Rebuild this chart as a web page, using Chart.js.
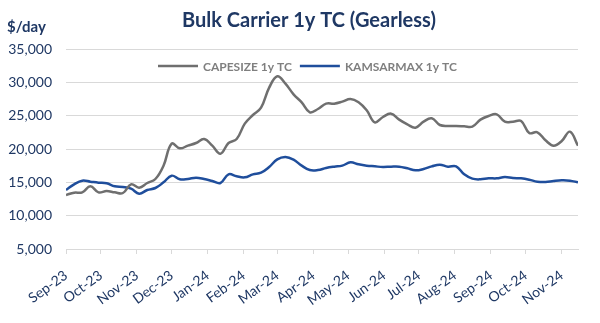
<!DOCTYPE html>
<html lang="en">
<head>
  <meta charset="UTF-8">
  <title>Bulk Carrier 1y TC (Gearless)</title>
  <script src="https://cdn.jsdelivr.net/npm/chart.js"></script>
  <style>
    * { margin: 0; padding: 0; box-sizing: border-box; }
    body { background: #fff; width: 600px; height: 323px; overflow: hidden; }
    canvas { display: block; }
  </style>
</head>
<body>
  <canvas id="tcChart" width="600" height="323"></canvas>

<script>
  // weekly assessment dates (Fridays)
  const weekDates = [
    '2023-09-01','2023-09-08','2023-09-15','2023-09-22','2023-09-29',
    '2023-10-06','2023-10-13','2023-10-20','2023-10-27',
    '2023-11-03','2023-11-10','2023-11-17','2023-11-24',
    '2023-12-01','2023-12-08','2023-12-15','2023-12-22','2023-12-29',
    '2024-01-05','2024-01-12','2024-01-19','2024-01-26',
    '2024-02-02','2024-02-09','2024-02-16','2024-02-23',
    '2024-03-01','2024-03-08','2024-03-15','2024-03-22','2024-03-29',
    '2024-04-05','2024-04-12','2024-04-19','2024-04-26',
    '2024-05-03','2024-05-10','2024-05-17','2024-05-24','2024-05-31',
    '2024-06-07','2024-06-14','2024-06-21','2024-06-28',
    '2024-07-05','2024-07-12','2024-07-19','2024-07-26',
    '2024-08-02','2024-08-09','2024-08-16','2024-08-23','2024-08-30',
    '2024-09-06','2024-09-13','2024-09-20','2024-09-27',
    '2024-10-04','2024-10-11','2024-10-18','2024-10-25',
    '2024-11-01','2024-11-08','2024-11-15'
  ];

  const capesize = [
    13100, 13450, 13500, 14400, 13500, 13700, 13500, 13400, 14700, 14200,
    14900, 15500, 17500, 20800, 20100, 20500, 20900, 21500, 20500, 19300,
    20900, 21500, 23800, 25100, 26200, 29200, 30900, 29800, 28200, 27000,
    25500, 26000, 26800, 26800, 27100, 27500, 27000, 25800, 24000, 24800,
    25300, 24400, 23700, 23200, 24100, 24600, 23600, 23450, 23450, 23400,
    23350, 24400, 24950, 25200, 24100, 24100, 24200, 22400, 22500, 21300,
    20500, 21200, 22600, 20500
  ];

  const kamsarmax = [
    13850, 14700, 15250, 15100, 14950, 14850, 14400, 14300, 14050, 13300,
    13850, 14150, 15000, 16000, 15450, 15500, 15700, 15500, 15200, 14900,
    16200, 15900, 15750, 16200, 16450, 17300, 18450, 18800, 18400, 17500,
    16850, 16850, 17150, 17350, 17500, 18000, 17700, 17500, 17400, 17300,
    17350, 17350, 17100, 16800, 17000, 17400, 17650, 17350, 17400, 16200,
    15550, 15450, 15600, 15600, 15800, 15650, 15600, 15400, 15100, 15050,
    15200, 15300, 15250, 15000
  ];

  const monthLabels = ['Sep-23','Oct-23','Nov-23','Dec-23','Jan-24','Feb-24','Mar-24',
    'Apr-24','May-24','Jun-24','Jul-24','Aug-24','Sep-24','Oct-24','Nov-24'];

  const seriesNames = ['CAPESIZE 1y TC', 'KAMSARMAX 1y TC'];
  const seriesColors = ['#6f6f6f', '#1f4e9c'];
  const navy = '#1f3864';
  const fontFamily = "Lato, 'Open Sans', sans-serif";

  // day offsets from the first assessment
  const dayMs = 86400000;
  const origin = Date.parse(weekDates[0] + 'T00:00:00Z');
  const toDays = s => Math.round((Date.parse(s + 'T00:00:00Z') - origin) / dayMs);
  const monNames = ['Jan','Feb','Mar','Apr','May','Jun','Jul','Aug','Sep','Oct','Nov','Dec'];
  const monthTicks = monthLabels.map(l => {
    const [m, y] = l.split('-');
    return Math.round((Date.UTC(2000 + parseInt(y), monNames.indexOf(m), 1) - origin) / dayMs);
  });

  const toPoints = vals => vals.map((v, i) => ({ x: toDays(weekDates[i]), y: v }));

  const headerPlugin = {
    id: 'header',
    afterDraw(chart) {
      const ctx = chart.ctx;
      ctx.save();
      ctx.fillStyle = navy;
      ctx.textBaseline = 'alphabetic';
      ctx.font = `bold 20px ${fontFamily}`;
      ctx.textAlign = 'center';
      ctx.fillText('Bulk Carrier 1y TC (Gearless)', 309, 27);
      ctx.font = `bold 15px ${fontFamily}`;
      ctx.textAlign = 'left';
      ctx.fillText('$/day', 7, 32);

      // legend inside plot area
      ctx.font = `bold 12px ${fontFamily}`;
      ctx.textBaseline = 'middle';
      let x = 158;
      const y = 66;
      seriesNames.forEach((name, i) => {
        ctx.strokeStyle = seriesColors[i];
        ctx.lineWidth = 2.5;
        ctx.beginPath();
        ctx.moveTo(x, y);
        ctx.lineTo(x + 40, y);
        ctx.stroke();
        x += 45;
        ctx.fillStyle = '#7f7f7f';
        ctx.fillText(name, x, y + 1);
        x += ctx.measureText(name).width + 8;
      });
      ctx.restore();
    }
  };

  new Chart(document.getElementById('tcChart').getContext('2d'), {
    type: 'line',
    data: {
      datasets: [
        { label: seriesNames[0], data: toPoints(capesize), borderColor: seriesColors[0],
          borderWidth: 2.5, pointRadius: 0, tension: 0.4, fill: false },
        { label: seriesNames[1], data: toPoints(kamsarmax), borderColor: seriesColors[1],
          borderWidth: 2.5, pointRadius: 0, tension: 0.4, fill: false }
      ]
    },
    options: {
      responsive: false,
      animation: false,
      devicePixelRatio: 1,
      layout: { padding: { top: 49, right: 22, left: 0, bottom: 0 } },
      plugins: {
        legend: { display: false },
        tooltip: { enabled: false }
      },
      scales: {
        x: {
          type: 'linear',
          min: 0,
          max: toDays(weekDates[weekDates.length - 1]),
          afterBuildTicks: s => { s.ticks = monthTicks.map(v => ({ value: v })); },
          afterFit: s => { s.height = 74; },
          grid: { drawOnChartArea: false, drawTicks: true, tickLength: 5, color: '#d9d9d9' },
          border: { display: true, color: '#d9d9d9' },
          ticks: {
            autoSkip: false,
            minRotation: 36,
            maxRotation: 36,
            padding: 13,
            color: navy,
            font: { family: fontFamily, size: 14 },
            callback: (v, i) => monthLabels[i]
          }
        },
        y: {
          min: 5000,
          max: 35000,
          afterFit: s => { s.width = 66; },
          grid: { color: '#d9d9d9', drawTicks: false },
          border: { display: false },
          ticks: {
            stepSize: 5000,
            padding: 14,
            color: navy,
            font: { family: fontFamily, size: 14 },
            callback: v => v.toLocaleString('en-US')
          }
        }
      }
    },
    plugins: [headerPlugin]
  });
</script>
</body>
</html>
